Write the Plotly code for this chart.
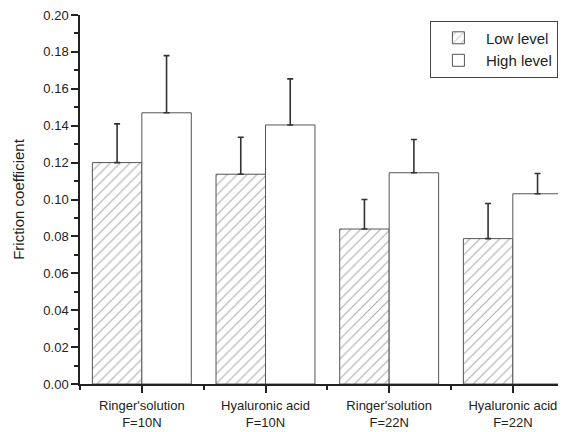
import plotly.graph_objects as go

categories = ["Ringer'solution<br>F=10N", "Hyaluronic acid<br>F=10N",
              "Ringer'solution<br>F=22N", "Hyaluronic acid<br>F=22N"]
low_values = [0.120, 0.1137, 0.0840, 0.0788]
low_errors = [0.021, 0.020, 0.016, 0.019]
high_values = [0.147, 0.1404, 0.1145, 0.1031]
high_errors = [0.031, 0.025, 0.018, 0.011]
y_ticks = [0.00, 0.02, 0.04, 0.06, 0.08, 0.10, 0.12, 0.14, 0.16, 0.18, 0.20]

xpos = list(range(len(categories)))
font = "Liberation Sans, Arial, sans-serif"

fig = go.Figure()
fig.add_trace(go.Bar(
    x=xpos, y=low_values, name="Low level",
    marker=dict(color="white", line=dict(color="#555555", width=1),
                pattern=dict(shape="/", size=7, solidity=0.15, fgcolor="#555555", bgcolor="white")),
    error_y=dict(type="data", symmetric=False, array=low_errors,
                 arrayminus=[0] * len(low_errors), color="#333333", thickness=1.6, width=3),
))
fig.add_trace(go.Bar(
    x=xpos, y=high_values, name="High level",
    marker=dict(color="white", line=dict(color="#555555", width=1)),
    error_y=dict(type="data", symmetric=False, array=high_errors,
                 arrayminus=[0] * len(high_errors), color="#333333", thickness=1.6, width=3),
))

fig.update_layout(
    width=558, height=424,
    margin=dict(l=72, r=0, t=7, b=48),
    paper_bgcolor="white", plot_bgcolor="white",
    barmode="group", bargap=0.2, bargroupgap=0,
    font=dict(family=font, size=13, color="#222222"),
    showlegend=True,
    legend=dict(x=0.72, y=0.985, xanchor="left", yanchor="top",
                bordercolor="#444444", borderwidth=1, bgcolor="white",
                itemwidth=45,
                font=dict(size=15, color="#222222"), tracegroupgap=0),
    xaxis=dict(
        range=[-0.5, 3.43], tickmode="array", tickvals=xpos, ticktext=categories,
        showline=True, linecolor="#222222", linewidth=1.5, automargin=False,
        ticks="outside", ticklen=7, tickwidth=1.5, tickcolor="#222222",
        minor=dict(tickmode="linear", tick0=-0.5, dtick=1, ticks="outside",
                   ticklen=4, tickwidth=1.5, tickcolor="#222222"),
        showgrid=False, zeroline=False, tickfont=dict(size=13),
        ticklabelstandoff=2, ticklabeloverflow="allow",
    ),
    yaxis=dict(
        range=[0, 0.2], tickmode="array", tickvals=y_ticks, tickformat=".2f",
        showline=True, linecolor="#222222", linewidth=1.5, automargin=False,
        ticks="outside", ticklen=7, tickwidth=1.5, tickcolor="#222222",
        minor=dict(tickmode="linear", tick0=0.01, dtick=0.02, ticks="outside",
                   ticklen=4, tickwidth=1.5, tickcolor="#222222"),
        showgrid=False, zeroline=False, tickfont=dict(size=13),
        ticklabeloverflow="allow",
        title=dict(text="Friction coefficient", font=dict(size=15), standoff=15),
    ),
)

fig.write_html("out.html")
